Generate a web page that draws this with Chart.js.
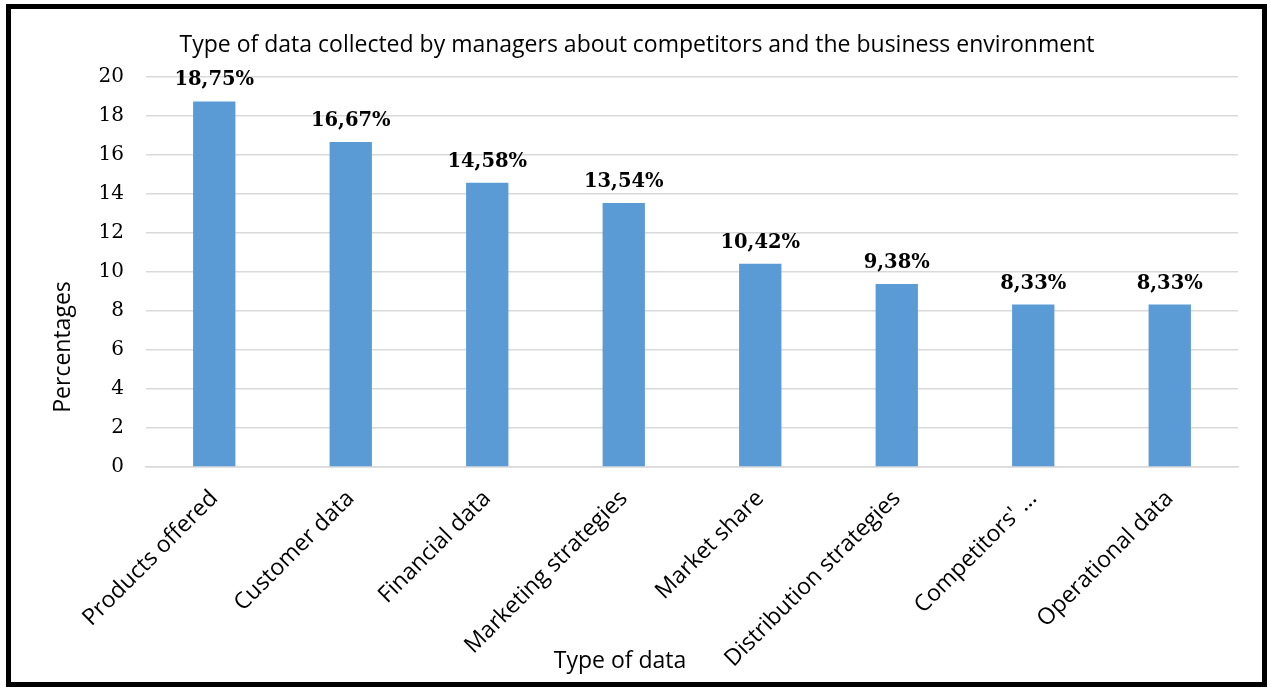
<!DOCTYPE html>
<html>
<head>
<meta charset="utf-8">
<script src="https://cdn.jsdelivr.net/npm/chart.js@4/dist/chart.umd.min.js"></script>
<style>
    html, body { margin: 0; padding: 0; background: #fff; }
    .wrap { position: relative; width: 1269px; height: 689px; }
    .frame {
        position: absolute; left: 6px; top: 4px; width: 1251px; height: 673px;
        border: 5px solid #000; pointer-events: none;
    }
</style>
</head>
<body>
<div class="wrap">
    <canvas id="chart" width="1269" height="689"></canvas>
    <div class="frame"></div>
</div>
<script>
// Data
const categories = [
    "Products offered", "Customer data", "Financial data", "Marketing strategies",
    "Market share", "Distribution strategies", "Competitors' ...", "Operational data"
];
const percentages = [18.75, 16.67, 14.58, 13.54, 10.42, 9.38, 8.33, 8.33];
const yTicks = [0, 2, 4, 6, 8, 10, 12, 14, 16, 18, 20];

const chartTitle = "Type of data collected by managers about competitors and the business environment";
const xTitle = "Type of data";
const yTitle = "Percentages";

const sansFont = "'Open Sans', 'Noto Sans', sans-serif";
const serifFont = "'DejaVu Serif', serif";

// Labels above each bar, plus titles
const textPlugin = {
    id: "texts",
    afterDatasetsDraw(chart) {
        const ctx = chart.ctx;
        const meta = chart.getDatasetMeta(0);
        ctx.save();
        ctx.fillStyle = "#000";
        ctx.font = "bold 19.5px " + serifFont;
        ctx.textAlign = "center";
        ctx.textBaseline = "alphabetic";
        meta.data.forEach((bar, i) => {
            let txt = percentages[i].toFixed(2).replace(".", ",") + "%";
            ctx.fillText(txt, bar.x, bar.y - 16);
        });

        ctx.font = "23px " + sansFont;
        ctx.fillText(chartTitle, 637, 52);
        ctx.fillText(xTitle, 620, 668);

        ctx.translate(70, 347);
        ctx.rotate(-Math.PI / 2);
        ctx.fillText(yTitle, 0, 0);
        ctx.restore();
    }
};

new Chart(document.getElementById("chart"), {
    type: "bar",
    data: {
        labels: categories,
        datasets: [{
            data: percentages,
            backgroundColor: "#5b9bd5",
            borderWidth: 0,
            categoryPercentage: 1,
            barPercentage: 0.31
        }]
    },
    options: {
        responsive: false,
        animation: false,
        layout: {
            padding: {left: 0, right: 31, top: 77, bottom: 0}
        },
        plugins: {
            legend: {display: false},
            tooltip: {enabled: false}
        },
        scales: {
            x: {
                grid: {display: false},
                border: {display: true, color: "#d9d9d9", width: 1.5},
                ticks: {
                    minRotation: 45,
                    maxRotation: 45,
                    autoSkip: false,
                    padding: 10,
                    color: "#000",
                    font: {family: sansFont, size: 23}
                },
                afterFit: (s) => { s.height = 222; }
            },
            y: {
                min: 0,
                max: 20,
                afterBuildTicks: (s) => { s.ticks = yTicks.map(v => ({value: v})); },
                grid: {color: "#d9d9d9", lineWidth: 1.5, drawTicks: false},
                border: {display: false},
                ticks: {
                    padding: 22,
                    color: "#000",
                    font: {family: serifFont, size: 20}
                },
                afterFit: (s) => { s.width = 146; }
            }
        }
    },
    plugins: [textPlugin]
});
</script>
</body>
</html>
